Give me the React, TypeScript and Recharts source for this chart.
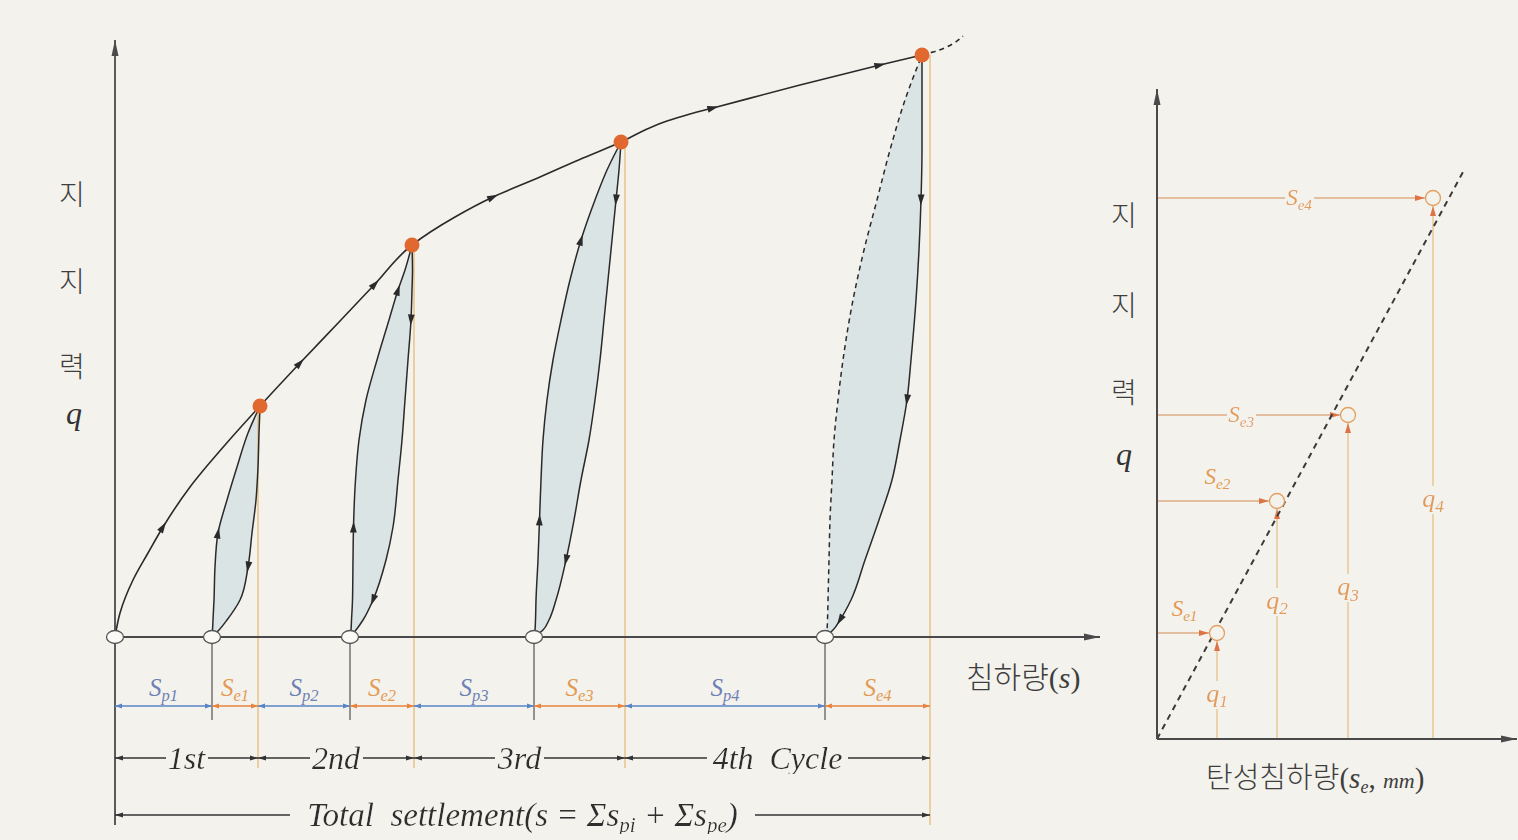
import React from "react";
import { ComposedChart, Line, Area, Scatter, XAxis, YAxis, ReferenceLine } from "recharts";

// Cyclic plate load test: bearing pressure q (kPa) against settlement s (mm)

// loading envelope (virgin curve), peaks included
const envelopeS = [0, 0.5, 1.8, 3.3, 4.8, 7.5, 11.0, 14.5, 18.5, 22.5, 26.0, 29.7, 34.0, 37.8, 42.5, 46.8, 50.6, 53.0, 55.2, 57.5, 59.8, 68.5, 76.5, 80.7];
const envelopeQ = [0, 12, 28.5, 42, 55, 75, 96, 115.5, 137, 158, 176.5, 196, 210, 220, 230, 239.5, 247.5, 253.5, 258, 261.5, 264.5, 276, 286, 291];
const envelopeTailS = [80.7, 81.8, 84.8];
const envelopeTailQ = [291, 292.5, 300.5];

const peakS = [14.5, 29.7, 50.6, 80.7];
const peakQ = [115.5, 196, 247.5, 291];
// settlement left after each unloading (0 = start of test)
const residualS = [0, 9.7, 23.5, 41.9, 71.0];
// total settlement reached in each cycle
const cycleEndS = [14.3, 29.9, 51.0, 81.5];
const cycleNames = ["1st", "2nd", "3rd", "4th  Cycle"];

// hysteresis loops: reloading (left) and unloading (right) branches at common q levels
const loop1Q = [0, 3.5, 8.5, 18.5, 35, 52, 68.5, 85, 102, 115.5];
const loop1Left = [9.7, 9.75, 9.8, 9.9, 10.0, 10.3, 11.2, 12.2, 13.3, 14.5];
const loop1Right = [9.7, 10.4, 11.2, 12.5, 13.3, 13.7, 14.1, 14.3, 14.4, 14.5];

const loop2Q = [0, 3.5, 8.5, 18.5, 38.5, 55, 78.5, 98.5, 118.5, 138.5, 158.5, 173.5, 183.5, 196];
const loop2Left = [23.5, 23.6, 23.65, 23.75, 23.8, 23.85, 24.05, 24.4, 25.1, 26.2, 27.4, 28.3, 29.0, 29.7];
const loop2Right = [23.5, 24.1, 24.8, 25.8, 27.1, 27.8, 28.3, 28.7, 29.0, 29.3, 29.6, 29.7, 29.75, 29.7];

const loop3Q = [0, 3.5, 8.5, 18.5, 38.5, 58.5, 78.5, 98.5, 118.5, 138.5, 158.5, 178.5, 198.5, 218.5, 233.5, 247.5];
const loop3Left = [41.9, 42.0, 42.05, 42.1, 42.3, 42.45, 42.6, 42.8, 43.2, 43.8, 44.6, 45.5, 46.6, 48.0, 49.2, 50.6];
const loop3Right = [41.9, 42.8, 43.4, 44.1, 45.1, 45.9, 46.6, 47.4, 48.0, 48.5, 48.9, 49.3, 49.7, 50.1, 50.4, 50.6];

const loop4Q = [0, 3.5, 8.5, 18.5, 38.5, 58.5, 78.5, 98.5, 118.5, 138.5, 168.5, 193.5, 218.5, 243.5, 268.5, 291];
const loop4Left = [71.0, 71.2, 71.25, 71.3, 71.4, 71.5, 71.7, 71.9, 72.3, 72.8, 73.8, 74.9, 76.2, 77.5, 79.0, 80.7];
const loop4Right = [71.0, 71.8, 72.5, 73.6, 75.0, 76.4, 77.7, 78.5, 79.2, 79.6, 80.1, 80.4, 80.6, 80.7, 80.7, 80.7];

// elastic settlement per cycle against the cycle's peak pressure
const elasticSe = [3.0, 6.0, 9.55, 13.8];
const elasticQ = [53, 119, 162, 270.5];
const elasticTrendSe = [0, 15.3];
const elasticTrendQ = [0, 283.5];

// ---- layout ----
const W = 1518;
const H = 840;
const BG = "#f4f2ed";
const INK = "#2a2a2a";
const AXIS = "#4a4a4a";
const BLUE = "#5a84c4";
const BLUE_TXT = "#6d80b4";
const ORANGE = "#e8833e";
const ORANGE_TXT = "#e39a52";
const TAN = "#e6bb78";
const DOT = "#e1692f";
const FILL = "#dbe4e4";
const SERIF = '"Liberation Serif", "DejaVu Serif", serif';
const KR = '"Noto Sans CJK KR", sans-serif';

const LP = { left: 95, right: 1100, top: 29, bottom: 837 };
const LX: [number, number] = [-2, 98.5];
const LY: [number, number] = [-100, 304];
const KX = (LP.right - LP.left) / (LX[1] - LX[0]);
const KY = (LP.bottom - LP.top) / (LY[1] - LY[0]);
const below = (px: number) => -px / KY; // q value that sits px pixels under the s axis

const RP = { left: 1157, right: 1517, top: 89, bottom: 739 };
const RX: [number, number] = [0, 18];
const RY: [number, number] = [0, 325];

const loops = [
  { q: loop1Q, l: loop1Left, r: loop1Right, up: [5], down: [4], dashed: false },
  { q: loop2Q, l: loop2Left, r: loop2Right, up: [5, 11], down: [10, 3], dashed: false },
  { q: loop3Q, l: loop3Left, r: loop3Right, up: [5, 12], down: [13, 4], dashed: false },
  { q: loop4Q, l: loop4Left, r: loop4Right, up: [] as number[], down: [12, 8, 2], dashed: true },
];
const envelopeArrowIdx = [4, 8, 10, 13, 20, 22];

const seLabelLayout = [
  { t: 0.53, dy: -17, knock: false },
  { t: 0.54, dy: -17, knock: false },
  { t: 0.46, dy: 7, knock: true },
  { t: 0.53, dy: 7, knock: true },
];
const qLabelT = [0.46, 0.6, 0.48, 0.45];

// direction of travel at point i of a curve, in screen degrees
function tangent(sArr: number[], qArr: number[], i: number, dir: number) {
  const a = Math.max(0, i - 1);
  const b = Math.min(sArr.length - 1, i + 1);
  const dx = (sArr[b] - sArr[a]) * KX * dir;
  const dy = -(qArr[b] - qArr[a]) * KY * dir;
  return { s: sArr[i], q: qArr[i], ang: (Math.atan2(dy, dx) * 180) / Math.PI };
}

const envelopeRows = envelopeS.map((s, i) => ({ s, q: envelopeQ[i] }));
const tailRows = envelopeTailS.map((s, i) => ({ s, q: envelopeTailQ[i] }));
const loopRows = loops.map((lp) => lp.q.map((q, i) => ({ q, left: lp.l[i], right: lp.r[i] })));
const peakRows = peakS.map((s, i) => ({ s, q: peakQ[i] }));
const restRows = residualS.map((s) => ({ s, q: 0 }));

const curveArrows = [
  ...envelopeArrowIdx.map((i) => tangent(envelopeS, envelopeQ, i, 1)),
  ...loops.flatMap((lp) => [
    ...lp.up.map((i) => tangent(lp.l, lp.q, i, 1)),
    ...lp.down.map((i) => tangent(lp.r, lp.q, i, -1)),
  ]),
];

const elasticRows = elasticSe.map((se, i) => ({ se, q: elasticQ[i] }));
const trendRows = elasticTrendSe.map((se, i) => ({ se, q: elasticTrendQ[i] }));

// ---- shapes ----
function Head({ x, y, ang, color, len = 10, wid = 6 }: any) {
  return (
    <polygon
      points={`0,0 ${-len},${-wid / 2} ${-len},${wid / 2}`}
      transform={`translate(${x},${y}) rotate(${ang})`}
      fill={color}
    />
  );
}

// text painted over a paper-coloured box so lines stop at the label
const knockout = { filter: "url(#paperBox)" };

function SubText({ x, y, main, sub, size, color, knock = false }: any) {
  return (
    <text
      x={x}
      y={y}
      textAnchor="middle"
      fontFamily={SERIF}
      fontStyle="italic"
      fontSize={size}
      fill={color}
      {...(knock ? knockout : {})}
    >
      {main}
      <tspan fontSize={size * 0.66} dy={size * 0.2}>
        {sub}
      </tspan>
    </text>
  );
}

const axisArrow = (color: string, w: number) => (p: any) => {
  const ang = (Math.atan2(p.y2 - p.y1, p.x2 - p.x1) * 180) / Math.PI;
  return (
    <g>
      <line x1={p.x1} y1={p.y1} x2={p.x2} y2={p.y2} stroke={color} strokeWidth={w} />
      <Head x={p.x2} y={p.y2} ang={ang} color={color} len={16} wid={7} />
    </g>
  );
};

const dimShape =
  (color: string, head: [number, number], label: (cx: number, y: number) => React.ReactNode) => (p: any) => (
    <g>
      <line x1={p.x1} y1={p.y1} x2={p.x2} y2={p.y2} stroke={color} strokeWidth={1.3} />
      <Head x={p.x1} y={p.y1} ang={180} color={color} len={head[0]} wid={head[1]} />
      <Head x={p.x2} y={p.y2} ang={0} color={color} len={head[0]} wid={head[1]} />
      {label((p.x1 + p.x2) / 2, p.y1)}
    </g>
  );

const curveArrowShape = (p: any) => (
  <polygon
    points="5.5,0 -5.5,-3.4 -5.5,3.4"
    transform={`translate(${p.cx},${p.cy}) rotate(${p.payload.ang})`}
    fill={INK}
  />
);

// ---- left chart ----
function SettlementChart() {
  const row1 = below(69);
  const row2 = below(121);
  const row3 = below(178);
  const plainSegs: { a: number; b: number; sp: boolean; n: number }[] = [];
  cycleEndS.forEach((end, i) => {
    const start = i === 0 ? 0 : cycleEndS[i - 1];
    plainSegs.push({ a: start, b: residualS[i + 1], sp: true, n: i + 1 });
    plainSegs.push({ a: residualS[i + 1], b: end, sp: false, n: i + 1 });
  });

  return (
    <ComposedChart
      layout="vertical"
      width={W}
      height={H}
      margin={{ top: LP.top, right: W - LP.right, bottom: H - LP.bottom, left: LP.left }}
    >
      <XAxis type="number" dataKey="s" domain={LX} hide allowDataOverflow />
      <YAxis type="number" dataKey="q" domain={LY} hide allowDataOverflow reversed />

      {cycleEndS.map((s, i) => (
        <ReferenceLine
          key={`end${i}`}
          segment={[{ x: s, y: peakQ[i] }, { x: s, y: below(i === 3 ? 188 : 131) }]}
          stroke={TAN}
          strokeWidth={1.3}
          ifOverflow="visible"
        />
      ))}

      {loopRows.map((rows, i) => (
        <Area
          key={`fill${i}`}
          data={rows}
          dataKey={(d: any) => [d.left, d.right]}
          type="monotone"
          fill={FILL}
          fillOpacity={1}
          stroke="none"
          isAnimationActive={false}
        />
      ))}
      {loopRows.map((rows, i) => (
        <Line
          key={`rl${i}`}
          data={rows}
          dataKey="left"
          type="monotone"
          stroke={INK}
          strokeWidth={1.5}
          strokeDasharray={loops[i].dashed ? "5 4" : undefined}
          dot={false}
          activeDot={false}
          isAnimationActive={false}
        />
      ))}
      {loopRows.map((rows, i) => (
        <Line
          key={`ul${i}`}
          data={rows}
          dataKey="right"
          type="monotone"
          stroke={INK}
          strokeWidth={1.5}
          dot={false}
          activeDot={false}
          isAnimationActive={false}
        />
      ))}

      <Line data={envelopeRows} dataKey="s" type="monotone" stroke={INK} strokeWidth={1.6} dot={false} activeDot={false} isAnimationActive={false} />
      <Line data={tailRows} dataKey="s" type="monotone" stroke={INK} strokeWidth={1.6} strokeDasharray="5 4" dot={false} activeDot={false} isAnimationActive={false} />

      {/* axes */}
      <ReferenceLine segment={[{ x: 0, y: 0 }, { x: LX[1], y: 0 }]} ifOverflow="visible" shape={axisArrow(AXIS, 1.8)} />
      <ReferenceLine segment={[{ x: 0, y: below(188) }, { x: 0, y: 298.5 }]} ifOverflow="visible" shape={axisArrow(AXIS, 1.8)} />

      {residualS.slice(1).map((s, i) => (
        <ReferenceLine key={`rs${i}`} segment={[{ x: s, y: 0 }, { x: s, y: below(83) }]} stroke="#5e5e5e" strokeWidth={1.3} ifOverflow="visible" />
      ))}

      {plainSegs.map((g, i) => (
        <ReferenceLine
          key={`d1${i}`}
          segment={[{ x: g.a, y: row1 }, { x: g.b, y: row1 }]}
          ifOverflow="visible"
          shape={dimShape(g.sp ? BLUE : ORANGE, [7, 5], (cx, y) => (
            <SubText x={cx} y={y - 10} main="S" sub={`${g.sp ? "p" : "e"}${g.n}`} size={25} color={g.sp ? BLUE_TXT : ORANGE_TXT} />
          ))}
        />
      ))}

      {cycleEndS.map((end, i) => (
        <ReferenceLine
          key={`d2${i}`}
          segment={[{ x: i === 0 ? 0 : cycleEndS[i - 1], y: row2 }, { x: end, y: row2 }]}
          ifOverflow="visible"
          shape={dimShape("#333", [8, 5], (cx, y) => (
            <text x={cx} y={y + 11} textAnchor="middle" fontFamily={SERIF} fontStyle="italic" fontSize={32} fill="#2f2f2f" {...knockout} style={{ whiteSpace: "pre" }}>
              {cycleNames[i]}
            </text>
          ))}
        />
      ))}

      <ReferenceLine
        segment={[{ x: 0, y: row3 }, { x: cycleEndS[3], y: row3 }]}
        ifOverflow="visible"
        shape={dimShape("#333", [8, 5], (cx, y) => (
          <text
            x={cx}
            y={y + 11}
            textAnchor="middle"
            fontFamily={SERIF}
            fontStyle="italic"
            fontSize={33}
            fill="#2f2f2f"
            {...knockout}
            style={{ whiteSpace: "pre" }}
          >
            {"Total  settlement(s = Σs"}
            <tspan fontSize={21} dy={6}>pi</tspan>
            <tspan dy={-6}>{" + Σs"}</tspan>
            <tspan fontSize={21} dy={6}>pe</tspan>
            <tspan dy={-6}>)</tspan>
          </text>
        ))}
      />

      <Scatter data={restRows} isAnimationActive={false} shape={(p: any) => (
        <ellipse cx={p.cx} cy={p.cy} rx={8.5} ry={6.5} fill="#fbfaf6" stroke="#555" strokeWidth={1.3} />
      )} />
      <Scatter data={peakRows} isAnimationActive={false} shape={(p: any) => (
        <circle cx={p.cx} cy={p.cy} r={7.5} fill={DOT} />
      )} />
      <Scatter data={curveArrows} isAnimationActive={false} shape={curveArrowShape} />
    </ComposedChart>
  );
}

// ---- right chart ----
function ElasticChart() {
  return (
    <ComposedChart
      width={W}
      height={H}
      margin={{ top: RP.top, right: W - RP.right, bottom: H - RP.bottom, left: RP.left }}
    >
      <XAxis type="number" dataKey="se" domain={RX} hide allowDataOverflow />
      <YAxis type="number" dataKey="q" domain={RY} hide allowDataOverflow />

      {elasticSe.map((se, i) => (
        <ReferenceLine
          key={`sh${i}`}
          segment={[{ x: 0, y: elasticQ[i] }, { x: se, y: elasticQ[i] }]}
          ifOverflow="visible"
          shape={(p: any) => {
            const xe = p.x2 - 8;
            const lx = p.x1 + (xe - p.x1) * seLabelLayout[i].t;
            return (
              <g>
                <line x1={p.x1} y1={p.y1} x2={xe} y2={p.y2} stroke="#dfae84" strokeWidth={1.4} />
                <Head x={xe} y={p.y2} ang={0} color="#de7446" len={10} wid={6} />
                <SubText x={lx} y={p.y1 + seLabelLayout[i].dy} main="S" sub={`e${i + 1}`} size={23} color={ORANGE_TXT} knock={seLabelLayout[i].knock} />
              </g>
            );
          }}
        />
      ))}
      {elasticSe.map((se, i) => (
        <ReferenceLine
          key={`sv${i}`}
          segment={[{ x: se, y: 0 }, { x: se, y: elasticQ[i] }]}
          ifOverflow="visible"
          shape={(p: any) => {
            const ye = p.y2 + 8;
            const ly = p.y1 + (ye - p.y1) * qLabelT[i];
            return (
              <g>
                <line x1={p.x1} y1={p.y1} x2={p.x2} y2={ye} stroke="#e8c48e" strokeWidth={1.4} />
                <Head x={p.x2} y={ye} ang={-90} color="#de7446" len={10} wid={6} />
                <SubText x={p.x1} y={ly + 8} main="q" sub={`${i + 1}`} size={26} color={ORANGE_TXT} knock />
              </g>
            );
          }}
        />
      ))}

      <Line data={trendRows} dataKey="q" type="linear" stroke="#3a3a3a" strokeWidth={2} strokeDasharray="6 5" dot={false} activeDot={false} isAnimationActive={false} />

      <ReferenceLine segment={[{ x: 0, y: 0 }, { x: RX[1], y: 0 }]} ifOverflow="visible" shape={axisArrow(AXIS, 2)} />
      <ReferenceLine segment={[{ x: 0, y: 0 }, { x: 0, y: RY[1] }]} ifOverflow="visible" shape={axisArrow(AXIS, 2)} />

      <Scatter data={elasticRows} isAnimationActive={false} shape={(p: any) => (
        <circle cx={p.cx} cy={p.cy} r={7.5} fill={BG} stroke="#e2a060" strokeWidth={1.3} />
      )} />
    </ComposedChart>
  );
}

function AxisTitles() {
  const kr = { fontFamily: KR, fill: "#3e3e3e", fontWeight: 300 } as const;
  return (
    <svg width={W} height={H} style={{ position: "absolute", left: 0, top: 0, pointerEvents: "none" }}>
      <defs>
        <filter id="paperBox" x="-0.04" y="0.08" width="1.08" height="0.84">
          <feFlood floodColor={BG} />
          <feComposite in="SourceGraphic" operator="over" />
        </filter>
      </defs>
      <text x={72} y={205} fontSize={28} textAnchor="middle" {...kr}>지</text>
      <text x={72} y={292} fontSize={28} textAnchor="middle" {...kr}>지</text>
      <text x={72} y={377} fontSize={28} textAnchor="middle" {...kr}>력</text>
      <text x={74} y={424} fontSize={32} textAnchor="middle" fontFamily={SERIF} fontStyle="italic" fill="#333">q</text>

      <text x={966} y={688} fontSize={30} {...kr}>
        침하량<tspan fontFamily={SERIF}>(</tspan>
        <tspan fontFamily={SERIF} fontStyle="italic">s</tspan>
        <tspan fontFamily={SERIF}>)</tspan>
      </text>

      <text x={1124} y={226} fontSize={28} textAnchor="middle" {...kr}>지</text>
      <text x={1124} y={316} fontSize={28} textAnchor="middle" {...kr}>지</text>
      <text x={1124} y={403} fontSize={28} textAnchor="middle" {...kr}>력</text>
      <text x={1124} y={465} fontSize={32} textAnchor="middle" fontFamily={SERIF} fontStyle="italic" fill="#333">q</text>

      <text x={1206} y={788} fontSize={29} {...kr}>
        탄성침하량<tspan fontFamily={SERIF}>(</tspan>
        <tspan fontFamily={SERIF} fontStyle="italic">s</tspan>
        <tspan fontFamily={SERIF} fontStyle="italic" fontSize={18} dy={5}>e</tspan>
        <tspan fontFamily={SERIF} dy={-5}>,  </tspan>
        <tspan fontFamily={SERIF} fontStyle="italic" fontSize={22}>mm</tspan>
        <tspan fontFamily={SERIF}>)</tspan>
      </text>
    </svg>
  );
}

export default function App() {
  return (
    <div style={{ position: "absolute", left: 0, top: 0, width: W, height: H, background: BG, overflow: "hidden" }}>
      <div style={{ position: "absolute", left: 0, top: 0 }}>
        <SettlementChart />
      </div>
      <div style={{ position: "absolute", left: 0, top: 0 }}>
        <ElasticChart />
      </div>
      <AxisTitles />
    </div>
  );
}
